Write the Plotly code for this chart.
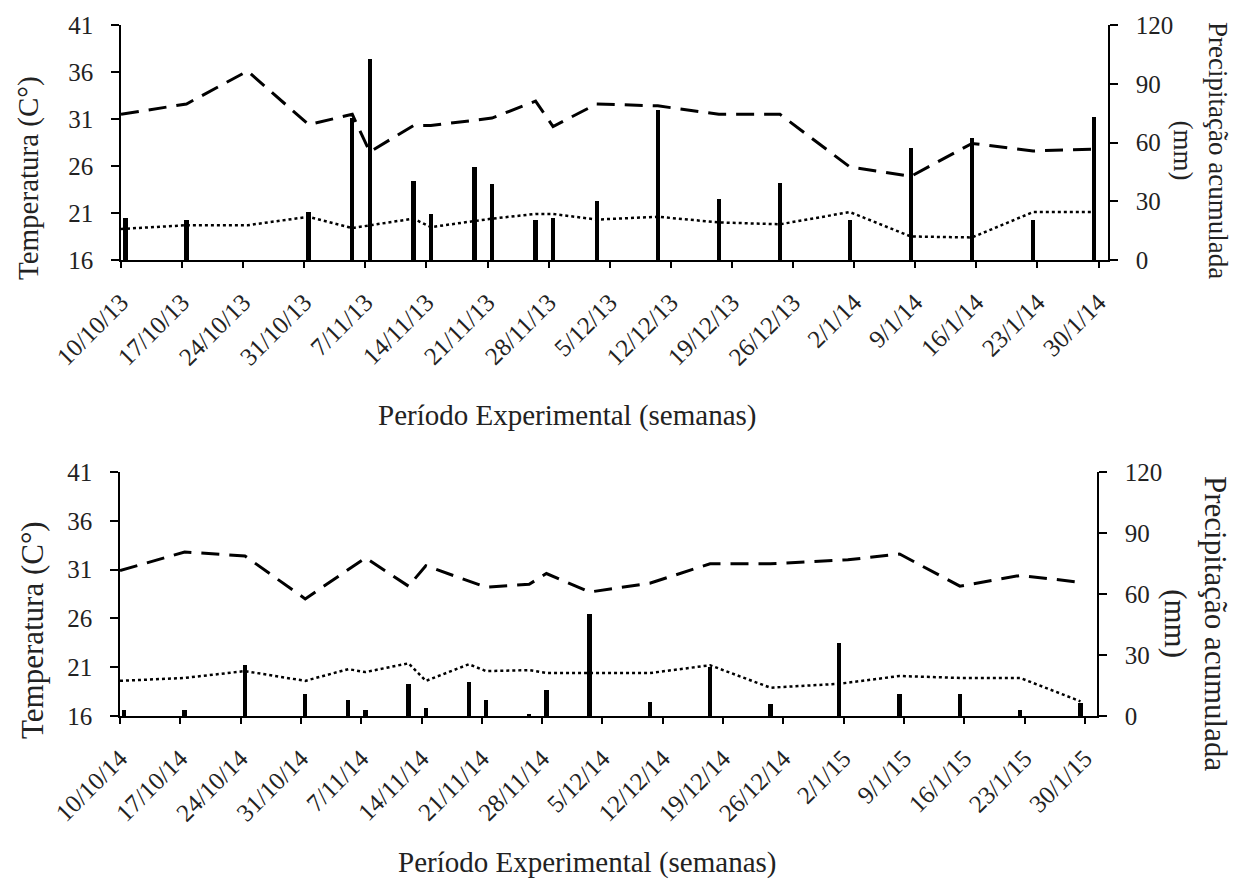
import plotly.graph_objects as go

# ---------------- data: 2013/14 ----------------
tick_dates_1 = ["2013-10-10", "2013-10-17", "2013-10-24", "2013-10-31", "2013-11-07",
                "2013-11-14", "2013-11-21", "2013-11-28", "2013-12-05", "2013-12-12",
                "2013-12-19", "2013-12-26", "2014-01-02", "2014-01-09", "2014-01-16",
                "2014-01-23", "2014-01-30"]
tick_text_1 = ["10/10/13", "17/10/13", "24/10/13", "31/10/13", "7/11/13", "14/11/13",
               "21/11/13", "28/11/13", "5/12/13", "12/12/13", "19/12/13", "26/12/13",
               "2/1/14", "9/1/14", "16/1/14", "23/1/14", "30/1/14"]

temp_dates_1 = ["2013-10-10", "2013-10-17 12:00", "2013-10-24 12:00", "2013-10-31 12:00",
                "2013-11-05 12:00", "2013-11-07 12:00", "2013-11-12 12:00", "2013-11-14 12:00",
                "2013-11-21 12:00", "2013-11-26 12:00", "2013-11-28 12:00", "2013-12-03 12:00",
                "2013-12-10 12:00", "2013-12-17 12:00", "2013-12-24 12:00", "2014-01-01 12:00",
                "2014-01-08 12:00", "2014-01-15 12:00", "2014-01-22 12:00", "2014-01-29 12:00"]
tmax_1 = [31.5, 32.6, 36.1, 30.4, 31.5, 27.5, 30.3, 30.3, 31.1, 32.9,
          30.2, 32.6, 32.4, 31.5, 31.5, 25.9, 24.9, 28.4, 27.6, 27.8]
tmin_1 = [19.3, 19.7, 19.7, 20.6, 19.4, 19.7, 20.4, 19.5, 20.4, 20.9,
          20.9, 20.3, 20.6, 20.0, 19.8, 21.1, 18.5, 18.4, 21.1, 21.1]

rain_dates_1 = ["2013-10-10 12:00", "2013-10-17 12:00", "2013-10-31 12:00", "2013-11-05 12:00",
                "2013-11-07 12:00", "2013-11-12 12:00", "2013-11-14 12:00", "2013-11-19 12:00",
                "2013-11-21 12:00", "2013-11-26 12:00", "2013-11-28 12:00", "2013-12-03 12:00",
                "2013-12-10 12:00", "2013-12-17 12:00", "2013-12-24 12:00", "2014-01-01 12:00",
                "2014-01-08 12:00", "2014-01-15 12:00", "2014-01-22 12:00", "2014-01-29 12:00"]
rain_1 = [21.3, 20.4, 24.3, 72.3, 102.5, 40.3, 23.5, 47.5, 38.7, 20.4,
          21.4, 30.3, 76.6, 31.3, 39.5, 20.4, 57.4, 62.5, 20.4, 73.2]

# ---------------- data: 2014/15 ----------------
tick_dates_2 = ["2014-10-10", "2014-10-17", "2014-10-24", "2014-10-31", "2014-11-07",
                "2014-11-14", "2014-11-21", "2014-11-28", "2014-12-05", "2014-12-12",
                "2014-12-19", "2014-12-26", "2015-01-02", "2015-01-09", "2015-01-16",
                "2015-01-23", "2015-01-30"]
tick_text_2 = ["10/10/14", "17/10/14", "24/10/14", "31/10/14", "7/11/14", "14/11/14",
               "21/11/14", "28/11/14", "5/12/14", "12/12/14", "19/12/14", "26/12/14",
               "2/1/15", "9/1/15", "16/1/15", "23/1/15", "30/1/15"]

tmax_dates_2 = ["2014-10-10", "2014-10-17 12:00", "2014-10-24 12:00", "2014-10-31 12:00",
                "2014-11-07 12:00", "2014-11-12 12:00", "2014-11-14 12:00", "2014-11-21 12:00",
                "2014-11-26 12:00", "2014-11-28 12:00", "2014-12-03 12:00", "2014-12-10 12:00",
                "2014-12-17 12:00", "2014-12-24 12:00", "2015-01-02 12:00", "2015-01-08 12:00",
                "2015-01-15 12:00", "2015-01-22 12:00", "2015-01-29 12:00"]
tmax_2 = [30.9, 32.8, 32.4, 28.0, 32.2, 29.3, 31.4, 29.2, 29.5, 30.6,
          28.7, 29.6, 31.6, 31.6, 32.0, 32.6, 29.3, 30.4, 29.7]

tmin_dates_2 = ["2014-10-10", "2014-10-17 12:00", "2014-10-24 12:00", "2014-10-31 12:00",
                "2014-11-05 12:00", "2014-11-07 12:00", "2014-11-12 12:00", "2014-11-14 12:00",
                "2014-11-19 12:00", "2014-11-21 12:00", "2014-11-26 12:00", "2014-11-28 12:00",
                "2014-12-03 12:00", "2014-12-10 12:00", "2014-12-17 12:00", "2014-12-24 12:00",
                "2015-01-01 12:00", "2015-01-08 12:00", "2015-01-15 12:00", "2015-01-22 12:00",
                "2015-01-29 12:00"]
tmin_2 = [19.6, 19.9, 20.6, 19.6, 20.8, 20.5, 21.4, 19.6, 21.3, 20.6, 20.7,
          20.4, 20.4, 20.4, 21.2, 18.9, 19.3, 20.1, 19.9, 19.9, 17.5]

rain_dates_2 = ["2014-10-10 12:00", "2014-10-17 12:00", "2014-10-24 12:00", "2014-10-31 12:00",
                "2014-11-05 12:00", "2014-11-07 12:00", "2014-11-12 12:00", "2014-11-14 12:00",
                "2014-11-19 12:00", "2014-11-21 12:00", "2014-11-26 12:00", "2014-11-28 12:00",
                "2014-12-03 12:00", "2014-12-10 12:00", "2014-12-17 12:00", "2014-12-24 12:00",
                "2015-01-01 12:00", "2015-01-08 12:00", "2015-01-15 12:00", "2015-01-22 12:00",
                "2015-01-29 12:00"]
rain_2 = [2.9, 2.9, 25.1, 10.7, 7.7, 2.9, 15.6, 3.8, 16.6, 7.7, 1.1,
          12.6, 50.2, 6.7, 24.3, 5.8, 35.8, 10.7, 10.7, 2.9, 6.2]

temp_ticks = [16, 21, 26, 31, 36, 41]
rain_ticks = [0, 30, 60, 90, 120]

# ---------------- figure ----------------
FONT = "Liberation Serif, Times New Roman, serif"
W, H = 1234, 880
BAR_W = 0.5 * 86400000  # half a day in ms
DASH = dict(color="black", width=3, dash="18px,10px")
DOT = dict(color="black", width=2.5, dash="3px,3px")

fig = go.Figure()
# top panel
fig.add_trace(go.Scatter(x=temp_dates_1, y=tmax_1, mode="lines", line=DASH,
                         xaxis="x", yaxis="y", showlegend=False))
fig.add_trace(go.Scatter(x=temp_dates_1, y=tmin_1, mode="lines", line=DOT,
                         xaxis="x", yaxis="y", showlegend=False))
fig.add_trace(go.Bar(x=rain_dates_1, y=rain_1, width=BAR_W, marker=dict(color="black", line=dict(width=0)),
                     xaxis="x", yaxis="y2", showlegend=False))
# bottom panel
fig.add_trace(go.Scatter(x=tmax_dates_2, y=tmax_2, mode="lines", line=DASH,
                         xaxis="x2", yaxis="y3", showlegend=False))
fig.add_trace(go.Scatter(x=tmin_dates_2, y=tmin_2, mode="lines", line=DOT,
                         xaxis="x2", yaxis="y3", showlegend=False))
fig.add_trace(go.Bar(x=rain_dates_2, y=rain_2, width=BAR_W, marker=dict(color="black", line=dict(width=0)),
                     xaxis="x2", yaxis="y4", showlegend=False))

def px_x(p):
    return p / W

def px_y(p):
    return 1 - p / H

common_x = dict(type="date", showline=True, linecolor="black", linewidth=1.5,
                ticks="outside", ticklen=6, tickcolor="black", tickwidth=1.5,
                tickangle=-45, showgrid=False, zeroline=False, automargin=False,
                ticklabelstandoff=10,
                tickfont=dict(family=FONT, size=25, color="#222"))
common_y = dict(showline=True, linecolor="black", linewidth=1.5, ticks="outside",
                ticklen=8, tickcolor="black", tickwidth=1.5, showgrid=False,
                zeroline=False, automargin=False, ticklabelstandoff=13,
                tickfont=dict(family=FONT, size=25, color="#222"))

fig.update_layout(
    width=W, height=H, margin=dict(l=0, r=0, t=0, b=0, autoexpand=False),
    paper_bgcolor="white", plot_bgcolor="white", bargap=0,
    xaxis=dict(common_x, domain=[px_x(121), px_x(1108)], anchor="y",
               range=["2013-10-10", "2014-01-31 02:00"],
               tickvals=tick_dates_1, ticktext=tick_text_1),
    yaxis=dict(common_y, domain=[px_y(260), px_y(25)], anchor="x",
               range=[16, 41], tickvals=temp_ticks),
    yaxis2=dict(common_y, overlaying="y", side="right", anchor="x",
                range=[0, 120], tickvals=rain_ticks),
    xaxis2=dict(common_x, domain=[px_x(120), px_x(1097)], anchor="y3",
                range=["2014-10-10", "2015-01-31 10:00"],
                tickvals=tick_dates_2, ticktext=tick_text_2),
    yaxis3=dict(common_y, domain=[px_y(716), px_y(472)], anchor="x2",
                range=[16, 41], tickvals=temp_ticks),
    yaxis4=dict(common_y, overlaying="y3", side="right", anchor="x2",
                range=[0, 120], tickvals=rain_ticks),
)

def tfont(size):
    return dict(family=FONT, size=size, color="#222")

annots = [
    dict(text="Temperatura (C°)", x=px_x(28), y=px_y(178), textangle=-90, font=tfont(29)),
    dict(text="Temperatura (C°)", x=px_x(32), y=px_y(630), textangle=-90, font=tfont(31)),
    dict(text="Precipitação acumulada<br>(mm)", x=px_x(1200), y=px_y(150), textangle=90, font=tfont(27)),
    dict(text="Precipitação acumulada<br>(mm)", x=px_x(1196), y=px_y(623), textangle=90, font=tfont(31)),
    dict(text="Período Experimental (semanas)", x=px_x(567), y=px_y(415), textangle=0, font=tfont(29)),
    dict(text="Período Experimental (semanas)", x=px_x(587), y=px_y(862), textangle=0, font=tfont(29)),
]
for a in annots:
    fig.add_annotation(xref="paper", yref="paper", xanchor="center", yanchor="middle",
                       showarrow=False, **a)

fig.write_html("out.html", config={"displayModeBar": False},
               post_script="document.body.style.margin='0px';document.body.style.overflow='hidden';")
